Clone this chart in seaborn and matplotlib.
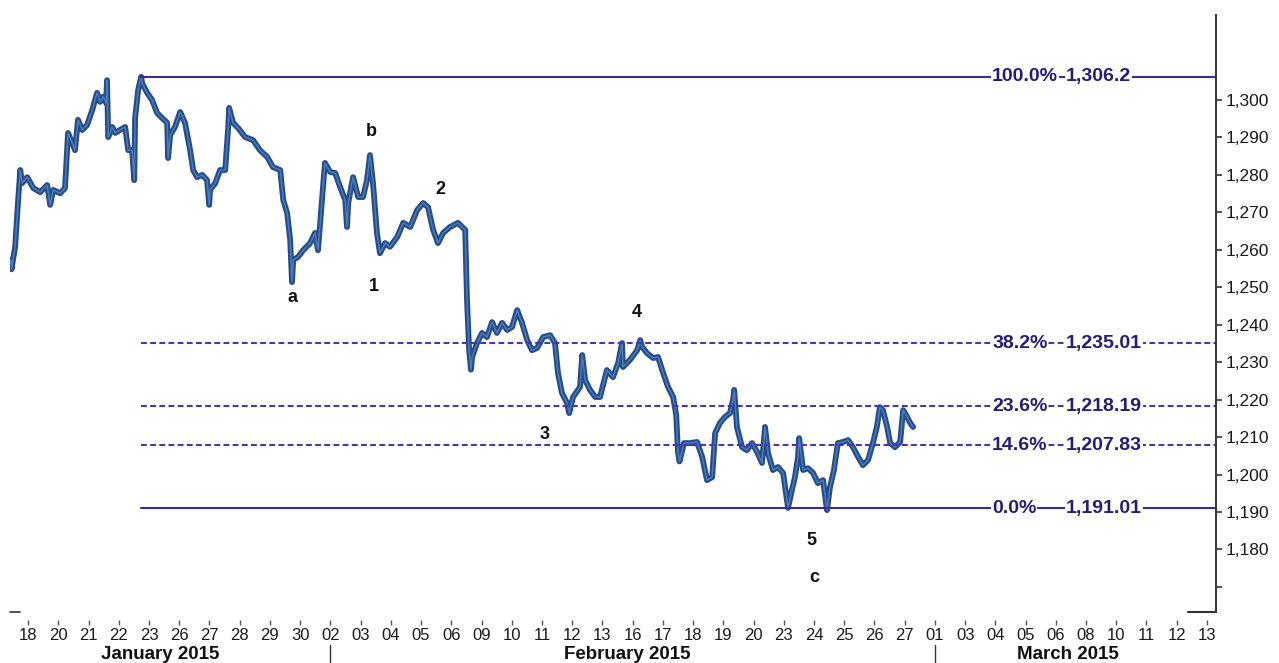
import pandas as pd
import matplotlib
matplotlib.use("Agg")
import matplotlib.pyplot as plt
import matplotlib.transforms as mtransforms
import seaborn as sns

# trading-day position (0 = tick "18" Jan) and price
day_pos = [-0.59, -0.56, -0.55, -0.43, -0.33, -0.26, -0.20, -0.03, 0.17, 0.40,
           0.63, 0.73, 0.83, 1.06, 1.22, 1.32, 1.46, 1.55, 1.65, 1.79,
           1.95, 2.12, 2.28, 2.38, 2.48, 2.58, 2.61, 2.65, 2.78, 2.88,
           3.04, 3.21, 3.31, 3.44, 3.51, 3.54, 3.64, 3.74, 3.77, 3.94,
           4.10, 4.27, 4.43, 4.60, 4.63, 4.70, 4.86, 5.03, 5.19, 5.36,
           5.46, 5.59, 5.76, 5.92, 5.99, 6.02, 6.19, 6.35, 6.52, 6.62,
           6.65, 6.78, 6.95, 7.18, 7.44, 7.67, 7.91, 8.10, 8.34, 8.44,
           8.57, 8.67, 8.73, 8.77, 8.93, 9.10, 9.33, 9.49, 9.59, 9.73,
           9.82, 9.99, 10.16, 10.32, 10.49, 10.55, 10.59, 10.75, 10.92, 11.08,
           11.21, 11.31, 11.41, 11.54, 11.64, 11.81, 11.97, 12.21, 12.41, 12.64,
           12.87, 13.07, 13.23, 13.40, 13.56, 13.73, 13.96, 14.22, 14.46, 14.52,
           14.59, 14.65, 14.69, 14.85, 15.02, 15.18, 15.35, 15.51, 15.68, 15.85,
           16.01, 16.18, 16.34, 16.51, 16.67, 16.84, 17.04, 17.27, 17.43, 17.53,
           17.66, 17.83, 17.90, 18.03, 18.26, 18.33, 18.43, 18.59, 18.76, 18.92,
           19.15, 19.35, 19.52, 19.65, 19.68, 19.91, 20.15, 20.25, 20.31, 20.48,
           20.68, 20.84, 21.01, 21.17, 21.34, 21.44, 21.50, 21.55, 21.70, 21.90,
           22.13, 22.30, 22.46, 22.63, 22.73, 22.89, 23.06, 23.22, 23.32, 23.36,
           23.45, 23.62, 23.78, 23.95, 24.12, 24.28, 24.38, 24.48, 24.64, 24.81,
           24.98, 25.14, 25.27, 25.37, 25.47, 25.51, 25.64, 25.80, 25.97, 26.13,
           26.30, 26.43, 26.53, 26.66, 26.79, 26.96, 27.13, 27.29, 27.46, 27.62,
           27.79, 27.95, 28.08, 28.18, 28.28, 28.42, 28.52, 28.68, 28.85, 28.95,
           29.08, 29.18, 29.28]
price = [1256.5, 1257.3, 1254.8, 1260.8, 1273.3, 1281.3, 1277.8, 1279.4, 1276.5, 1275.4,
         1277.3, 1272.0, 1276.0, 1275.1, 1276.5, 1291.2, 1288.5, 1286.6, 1294.7, 1292.0,
         1293.3, 1297.3, 1301.9, 1299.5, 1300.9, 1299.2, 1305.3, 1290.1, 1292.8, 1291.2,
         1292.0, 1292.8, 1286.6, 1286.6, 1278.6, 1295.2, 1302.7, 1306.2, 1304.5, 1301.9,
         1300.0, 1296.5, 1295.2, 1293.9, 1284.5, 1290.7, 1292.8, 1296.8, 1293.9, 1286.6,
         1281.3, 1279.4, 1280.0, 1278.6, 1272.0, 1276.0, 1277.8, 1281.3, 1281.3, 1292.8,
         1297.9, 1293.9, 1292.5, 1290.1, 1289.3, 1286.6, 1284.8, 1282.1, 1281.3, 1273.3,
         1269.8, 1262.6, 1251.4, 1257.3, 1258.1, 1259.9, 1261.8, 1264.5, 1259.9, 1274.1,
         1283.2, 1280.8, 1280.5, 1276.8, 1273.3, 1266.1, 1272.5, 1279.4, 1274.1, 1274.1,
         1278.6, 1285.3, 1277.8, 1264.5, 1259.1, 1261.8, 1260.8, 1263.4, 1267.2, 1266.1,
         1270.6, 1272.5, 1271.4, 1265.3, 1261.8, 1264.5, 1266.1, 1267.2, 1265.3, 1246.6,
         1233.2, 1228.0, 1231.4, 1235.1, 1237.8, 1236.7, 1240.7, 1237.8, 1240.5, 1238.6,
         1239.4, 1243.9, 1240.5, 1235.9, 1233.2, 1233.8, 1236.7, 1237.2, 1235.1, 1227.1,
         1221.8, 1219.1, 1216.4, 1220.7, 1223.4, 1231.9, 1225.2, 1222.6, 1220.7, 1220.7,
         1227.9, 1226.0, 1229.8, 1235.1, 1228.7, 1230.6, 1233.2, 1235.9, 1234.1, 1232.4,
         1231.1, 1231.4, 1227.1, 1223.4, 1220.7, 1216.0, 1206.0, 1203.5, 1208.4, 1208.4,
         1208.7, 1204.7, 1198.5, 1199.3, 1211.1, 1213.8, 1215.4, 1216.4, 1219.9, 1222.6,
         1212.7, 1207.3, 1206.5, 1208.4, 1206.0, 1203.1, 1212.7, 1205.7, 1201.2, 1202.0,
         1200.4, 1191.1, 1195.9, 1199.3, 1204.7, 1209.7, 1201.2, 1201.7, 1200.4, 1197.7,
         1198.5, 1190.5, 1196.7, 1201.2, 1208.4, 1208.7, 1209.2, 1207.3, 1204.7, 1202.5,
         1203.9, 1208.4, 1212.7, 1218.0, 1217.2, 1212.7, 1208.4, 1207.3, 1208.7, 1217.2,
         1215.4, 1213.8, 1212.7]

day_labels = ['18', '20', '21', '22', '23', '26', '27', '28', '29', '30',
              '02', '03', '04', '05', '06', '09', '10', '11', '12', '13',
              '16', '17', '18', '19', '20', '23', '24', '25', '26', '27',
              '01', '03', '04', '05', '06', '08', '10', '11', '12', '13']
month_names = ['January 2015', 'February 2015', 'March 2015']
month_centers = [4.37, 19.81, 34.4]
month_starts = [10, 30]

fib_pct = ['100.0%', '38.2%', '23.6%', '14.6%', '0.0%']
fib_val = [1306.2, 1235.01, 1218.19, 1207.83, 1191.01]
fib_txt = ['1,306.2', '1,235.01', '1,218.19', '1,207.83', '1,191.01']
fib_dashed = [False, True, True, True, False]
fib_start = 3.74

wave_labels = ['a', '1', 'b', '2', '3', '4', '5', 'c']
wave_x = [8.73, 11.45, 11.35, 13.63, 17.10, 20.15, 25.93, 26.0]
wave_y = [1247.4, 1250.1, 1291.5, 1276.2, 1210.8, 1243.4, 1182.5, 1172.6]

df = pd.DataFrame({'day': day_pos, 'price': price})

sns.set_style("white")
plt.rcParams['font.family'] = ['Liberation Sans', 'DejaVu Sans']

fig = plt.figure(figsize=(12.79, 6.63), dpi=100)
ax = fig.add_axes([10 / 1279, 51 / 663, 1206 / 1279, 597 / 663])

sns.lineplot(data=df, x='day', y='price', ax=ax, color='#264d8a', linewidth=4.2,
             estimator=None, sort=False)
ax.plot(df['day'], df['price'], color='#4b7bb8', linewidth=1.1)

x_end = 39.3
for pct, val, txt, dashed in zip(fib_pct, fib_val, fib_txt, fib_dashed):
    if dashed:
        ax.plot([fib_start, x_end], [val, val], color='#4b34b0', linewidth=1.5,
                linestyle=(0, (2.8, 1.6)))
    else:
        ax.plot([fib_start, x_end], [val, val], color='#3a2a9c', linewidth=1.5)
    box = dict(facecolor='white', edgecolor='none', pad=0.4)
    ax.text(31.89, val, pct, ha='left', va='center', fontsize=14, fontweight='bold',
            color='#2a1a78', bbox=box)
    ax.text(34.34, val, txt, ha='left', va='center', fontsize=14, fontweight='bold',
            color='#2a1a78', bbox=box)

for s, x, y in zip(wave_labels, wave_x, wave_y):
    ax.text(x, y, s, ha='center', va='center', fontsize=13, fontweight='bold', color='#111111')

ax.set_xlim(-0.6, x_end)
ax.set_ylim(1163.3, 1322.7)
ax.set_xlabel('')
ax.set_ylabel('')

# y axis on the right
yt = list(range(1170, 1301, 10))
ax.set_yticks(yt)
ax.set_yticklabels(['' if v == 1170 else f'{v:,}' for v in yt])
ax.yaxis.tick_right()
ax.tick_params(axis='y', right=True, left=False, labelright=True, labelleft=False,
               direction='out', length=4.5, width=1.2, pad=2.5, labelsize=12.5,
               color='#333333', labelcolor='#1a1a1a')

ax.set_xticks(range(len(day_labels)))
ax.set_xticklabels(day_labels)
ax.tick_params(axis='x', bottom=True, direction='out', length=3.5, width=1,
               pad=2, labelsize=12, color='#555555', labelcolor='#1a1a1a')

for side in ['left', 'top']:
    ax.spines[side].set_visible(False)
ax.spines['bottom'].set_position(('outward', 5.8))
ax.spines['bottom'].set_visible(False)
ax.spines['right'].set_color('#3a3a3a')
ax.spines['right'].set_linewidth(1.5)

trans = mtransforms.blended_transform_factory(ax.transData, ax.transAxes)
for m in month_starts:
    ax.plot([m, m], [-0.055, -0.09], transform=trans, clip_on=False,
            color='#333333', linewidth=1)
for name, c in zip(month_names, month_centers):
    ax.text(c, -0.072, name, transform=trans, ha='center', va='center',
            fontsize=13.5, fontweight='bold', color='#111111')

# small corner pieces of the frame
ax.plot([0, 0.008], [0, 0], transform=ax.transAxes, clip_on=False, color='#333333', linewidth=1.2)
ax.plot([0.977, 1], [0, 0], transform=ax.transAxes, clip_on=False, color='#333333', linewidth=1.5)

plt.savefig('out.png', dpi=100)
plt.close()
